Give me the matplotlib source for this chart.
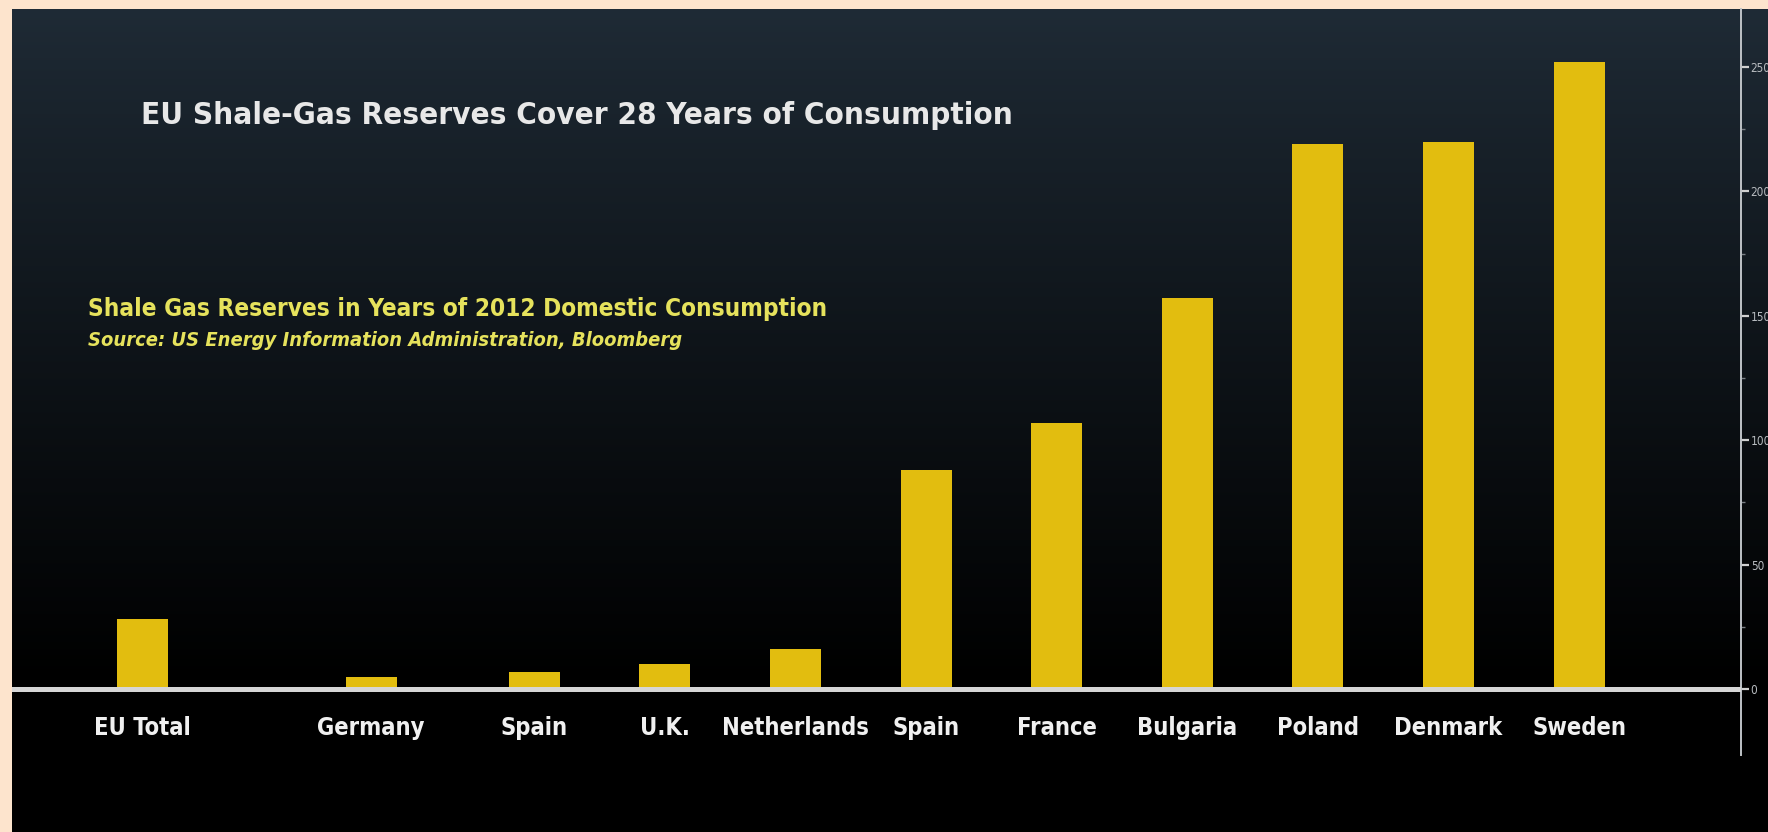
import numpy as np
import matplotlib
matplotlib.use("Agg")
import matplotlib.pyplot as plt
from matplotlib import font_manager
from matplotlib.colors import to_rgb
from matplotlib.ticker import FixedLocator

# data (years of 2012 domestic consumption)
countries = ["EU Total", "Germany", "Spain", "U.K.", "Netherlands", "Spain",
             "France", "Bulgaria", "Poland", "Denmark", "Sweden"]
reserves_years = [28, 5, 7, 10, 16, 88, 107, 157, 219, 220, 252]
slot = [0, 1.75, 3, 4, 5, 6, 7, 8, 9, 10, 11]
y_ticks = [0, 50, 100, 150, 200, 250]
y_minor = [25, 75, 125, 175, 225]
y_tick_labels = ["0", "50", "100", "150", "200", "250"]

title = "EU Shale-Gas Reserves Cover 28 Years of Consumption"
subtitle = "Shale Gas Reserves in Years of 2012 Domestic Consumption"
source = "Source: US Energy Information Administration, Bloomberg"

names = {f.name for f in font_manager.fontManager.ttflist}
narrow = "Liberation Sans Narrow" if "Liberation Sans Narrow" in names else "DejaVu Sans"
stretch = "normal" if narrow == "Liberation Sans Narrow" else "condensed"

W, H = 1768, 832
fig = plt.figure(figsize=(W / 100, H / 100), dpi=100)
fig.patch.set_facecolor("#fde4cd")

# dark panel with vertical gradient
panel_left, panel_top = 12, 9
bg = fig.add_axes([panel_left / W, 0, 1 - panel_left / W, (H - panel_top) / H])
bg.set_axis_off()
top_c = np.array(to_rgb("#1f2b36"))
bot_c = np.array(to_rgb("#000000"))
t = np.linspace(0, 1, 400)
t = np.clip(t / 0.82, 0, 1) ** 0.9
grad = top_c[None, :] * (1 - t[:, None]) + bot_c[None, :] * t[:, None]
bg.imshow(grad[:, None, :], aspect="auto", extent=[0, 1, 0, 1], origin="upper")

# main axes, right spine at x=1741px
ax = fig.add_axes([panel_left / W, 0, (1741 - panel_left) / W, (H - panel_top) / H])
ax.set_facecolor("none")
ax.set_xlim(-1.0, 12.24)
ax.set_ylim(-57.5, 273.3)

ax.bar(slot, reserves_years, width=0.39, color="#e2bd0f", zorder=2)
ax.axhline(0, color="#d6d6d6", lw=3.6, zorder=3)

for x, name in zip(slot, countries):
    ax.text(x, -11, name, ha="center", va="top", color="#f0f0f0",
            fontsize=17, fontweight="bold", family=narrow, fontstretch=stretch)

for s in ["left", "top", "bottom"]:
    ax.spines[s].set_visible(False)
ax.spines["right"].set_color("#bfc3c7")
ax.spines["right"].set_linewidth(1.4)
ax.spines["right"].set_bounds(-26.5, 273.3)
ax.yaxis.tick_right()
ax.set_xticks([])
ax.set_yticks(y_ticks)
ax.set_yticklabels(y_tick_labels)
ax.yaxis.set_minor_locator(FixedLocator(y_minor))
ax.tick_params(axis="y", which="major", direction="out", length=6, width=1.6,
               color="#d0d0d0", labelcolor="#b8bcc0", labelsize=8.5, pad=1)
ax.tick_params(axis="y", which="minor", direction="out", length=3, width=1.0,
               color="#7a7f85")
for lab in ax.get_yticklabels():
    lab.set_family(narrow)
    lab.set_fontstretch(stretch)

fig.text(141 / W, 1 - 116 / H, title, ha="left", va="center", color="#e8e8e8",
         fontsize=22.5, fontweight="bold", family=narrow, fontstretch=stretch)
fig.text(88 / W, 1 - 309 / H, subtitle, ha="left", va="center", color="#e6e25c",
         fontsize=17.5, fontweight="bold", family=narrow, fontstretch=stretch)
fig.text(88 / W, 1 - 340 / H, source, ha="left", va="center", color="#e6e25c",
         fontsize=14.4, fontweight="bold", style="italic", family=narrow,
         fontstretch=stretch)

fig.savefig("out.png", dpi=100, facecolor=fig.get_facecolor())
